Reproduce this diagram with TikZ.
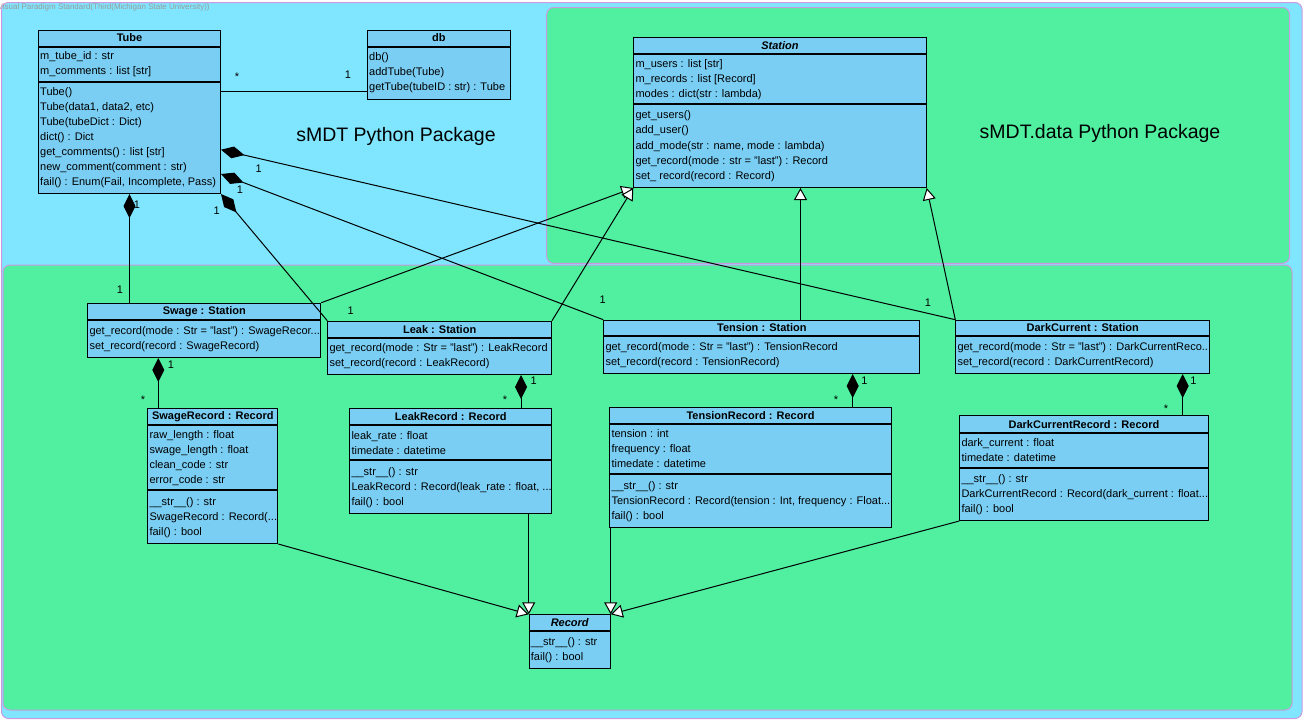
\documentclass[tikz,border=0pt]{standalone}
\usepackage{fontspec}
\setmainfont{Liberation Sans}
\usepackage{xcolor}
\usepackage{tikz}
\usetikzlibrary{calc,arrows.meta}
\definecolor{pkgblue}{HTML}{80E6FF}
\definecolor{pkggreen}{HTML}{50F0A0}
\definecolor{pkgedge}{HTML}{CC99E0}
\definecolor{clsfill}{HTML}{7ACEF4}
\definecolor{wmgray}{HTML}{9A9A9A}
\newcommand{\clsfont}{\fontsize{11}{15}\selectfont}
\tikzset{
  pkg/.style={draw=pkgedge, line width=1pt, rounded corners=7pt},
  pkgname/.style={font=\fontsize{19.5}{23}\selectfont, inner sep=0pt},
  clshead/.style={draw, fill=clsfill, line width=1pt, anchor=north west, minimum height=16pt, inner sep=0pt, font=\clsfont\bfseries},
  clspart/.style={draw, fill=clsfill, line width=1pt, anchor=north, inner sep=0pt},
  clstext/.style={anchor=west, align=left, inner xsep=2pt, inner ysep=0pt, font=\clsfont},
  assoc/.style={draw, line width=1pt},
  compo/.style={draw, line width=1pt, {Diamond[length=24pt,width=12pt]}-},
  gen/.style={draw, line width=1pt, -{Triangle[length=12pt,width=13pt,fill=white]}},
  mult/.style={anchor=base, inner sep=0pt, font=\clsfont},
}

\begin{document}
\begin{tikzpicture}[x=1pt,y=-1pt]
  \useasboundingbox (0,0) rectangle (1308,723);
  % packages
  \draw[pkg, fill=pkgblue] (1.5,2.5) rectangle (1302,718.5);
  \draw[pkg, fill=pkggreen] (546.7,7.5) rectangle (1289.5,263.3);
  \draw[pkg, fill=pkggreen] (3,265) rectangle (1292,710);
  \node[anchor=west, inner sep=0pt, text=wmgray, font=\fontsize{8}{9}\selectfont] (wm) at (-2.5,7) {Visual Paradigm Standard(Third(Michigan State University))};
  \node[pkgname] (pkgmain) at (396,136) {sMDT Python Package};
  \node[pkgname] (pkgdata) at (1100,133) {sMDT.data Python Package};

  % Tube
  \node[clshead, minimum width=182pt] (tube) at (38,29.5) {Tube};
  \node[clspart, minimum width=182pt, minimum height=34pt] (tube-a) at (tube.south) {};
  \node[clstext] (tube-at) at (tube-a.west) {m\_tube\_id : str\\m\_comments : list [str]};
  \node[clspart, minimum width=182pt, minimum height=111.5pt] (tube-o) at (tube-a.south) {};
  \node[clstext] (tube-ot) at (tube-o.west) {Tube()\\Tube(data1, data2, etc)\\Tube(tubeDict : Dict)\\dict() : Dict\\get\_comments() : list [str]\\new\_comment(comment : str)\\fail() : Enum(Fail, Incomplete, Pass)};

  % db
  \node[clshead, minimum width=142.5pt] (db) at (367,29.5) {db};
  \node[clspart, minimum width=142.5pt, minimum height=52pt] (db-o) at (db.south) {};
  \node[clstext] (db-ot) at (db-o.west) {db()\\addTube(Tube)\\getTube(tubeID : str) : Tube};

  % Station
  \node[clshead, minimum width=292.4pt, font=\clsfont\bfseries\itshape] (station) at (633.3,37.3) {Station};
  \node[clspart, minimum width=292.4pt, minimum height=49pt] (station-a) at (station.south) {};
  \node[clstext] (station-at) at (station-a.west) {m\_users : list [str]\\m\_records : list [Record]\\modes : dict(str : lambda)};
  \node[clspart, minimum width=292.4pt, minimum height=82.7pt] (station-o) at (station-a.south) {};
  \node[clstext] (station-ot) at (station-o.west) {get\_users()\\add\_user()\\add\_mode(str : name, mode : lambda)\\get\_record(mode : str = "last") : Record\\set\_ record(record : Record)};

  % stations
  \node[clshead, minimum width=233pt] (swage) at (87.3,302.7) {Swage : Station};
  \node[clspart, minimum width=233pt, minimum height=37.3pt] (swage-o) at (swage.south) {};
  \node[clstext] (swage-ot) at (swage-o.west) {get\_record(mode : Str = "last") : SwageRecor...\\set\_record(record : SwageRecord)};

  \node[clshead, minimum width=223.7pt] (leak) at (327.3,320.7) {Leak : Station};
  \node[clspart, minimum width=223.7pt, minimum height=36.3pt] (leak-o) at (leak.south) {};
  \node[clstext] (leak-ot) at (leak-o.west) {get\_record(mode : Str = "last") : LeakRecord\\set\_record(record : LeakRecord)};

  \node[clshead, minimum width=316pt, minimum height=15.6pt] (tension) at (603.3,319.7) {Tension : Station};
  \node[clspart, minimum width=316pt, minimum height=36.7pt] (tension-o) at (tension.south) {};
  \node[clstext] (tension-ot) at (tension-o.west) {get\_record(mode : Str = "last") : TensionRecord\\set\_record(record : TensionRecord)};

  \node[clshead, minimum width=254pt, minimum height=15.6pt] (dark) at (955.3,319.7) {DarkCurrent : Station};
  \node[clspart, minimum width=254pt, minimum height=36.7pt] (dark-o) at (dark.south) {};
  \node[clstext] (dark-ot) at (dark-o.west) {get\_record(mode : Str = "last") : DarkCurrentReco...\\set\_record(record : DarkCurrentRecord)};

  % records
  \node[clshead, minimum width=130pt] (srec) at (147.3,408.3) {SwageRecord : Record};
  \node[clspart, minimum width=130pt, minimum height=64pt] (srec-a) at (srec.south) {};
  \node[clstext] (srec-at) at (srec-a.west) {raw\_length : float\\swage\_length : float\\clean\_code : str\\error\_code : str};
  \node[clspart, minimum width=130pt, minimum height=52.7pt] (srec-o) at (srec-a.south) {};
  \node[clstext] (srec-ot) at (srec-o.west) {\_\_str\_\_() : str\\SwageRecord : Record(...\\fail() : bool};

  \node[clshead, minimum width=202pt] (lrec) at (349.3,408.3) {LeakRecord : Record};
  \node[clspart, minimum width=202pt, minimum height=34pt] (lrec-a) at (lrec.south) {};
  \node[clstext] (lrec-at) at (lrec-a.west) {leak\_rate : float\\timedate : datetime};
  \node[clspart, minimum width=202pt, minimum height=52.7pt] (lrec-o) at (lrec-a.south) {};
  \node[clstext] (lrec-ot) at (lrec-o.west) {\_\_str\_\_() : str\\LeakRecord : Record(leak\_rate : float, ...\\fail() : bool};

  \node[clshead, minimum width=281.4pt, minimum height=15.4pt] (trec) at (609.3,407.3) {TensionRecord : Record};
  \node[clspart, minimum width=281.4pt, minimum height=49.6pt] (trec-a) at (trec.south) {};
  \node[clstext] (trec-at) at (trec-a.west) {tension : int\\frequency : float\\timedate : datetime};
  \node[clspart, minimum width=281.4pt, minimum height=53pt] (trec-o) at (trec-a.south) {};
  \node[clstext] (trec-ot) at (trec-o.west) {\_\_str\_\_() : str\\TensionRecord : Record(tension : Int, frequency : Float...\\fail() : bool};

  \node[clshead, minimum width=248.4pt, minimum height=17pt] (drec) at (959.3,415.3) {DarkCurrentRecord : Record};
  \node[clspart, minimum width=248.4pt, minimum height=33.4pt] (drec-a) at (drec.south) {};
  \node[clstext] (drec-at) at (drec-a.west) {dark\_current : float\\timedate : datetime};
  \node[clspart, minimum width=248.4pt, minimum height=52.3pt] (drec-o) at (drec-a.south) {};
  \node[clstext] (drec-ot) at (drec-o.west) {\_\_str\_\_() : str\\DarkCurrentRecord : Record(dark\_current : float...\\fail() : bool};

  \node[clshead, minimum width=81pt, font=\clsfont\bfseries\itshape] (rec) at (528.7,614.3) {Record};
  \node[clspart, minimum width=81pt, minimum height=37pt] (rec-o) at (rec.south) {};
  \node[clstext] (rec-ot) at (rec-o.west) {\_\_str\_\_() : str\\fail() : bool};

  % Tube links
  \coordinate (dbend) at ($(db-o.south west)+(0,-8)$);
  \draw[assoc] (dbend -| tube-o.east) -- (dbend);
  \node[mult] (m-db1) at (237,80) {*};
  \node[mult] (m-db2) at (348,78) {1};

  \draw[compo] (tube-o.south) -- (tube-o.south |- swage.north);
  \node[mult] (m-sw1) at (137,208) {1};
  \node[mult] (m-sw2) at (120,293) {1};

  \draw[compo] (tube-o.south east) -- (leak.north west);
  \node[mult] (m-lk1) at (216.7,214) {1};
  \node[mult] (m-lk2) at (350.7,314) {1};

  \draw[compo] ($(tube-o.south east)+(0,-20)$) -- (tension.north west);
  \node[mult] (m-tn1) at (240,193.3) {1};
  \node[mult] (m-tn2) at (602.7,303.3) {1};

  \draw[compo] ($(tube-o.south east)+(0,-44.3)$) -- (dark.north west);
  \node[mult] (m-dk1) at (258.7,172.3) {1};
  \node[mult] (m-dk2) at (928,306) {1};

  % inheritance from Station
  \coordinate (stup) at ($(station-o.south)+(20.5,0)$);
  \draw[gen] (swage.north east) -- (station-o.south west);
  \draw[gen] (leak.north east) -- (station-o.south west);
  \draw[gen] (tension.north -| stup) -- (stup);
  \draw[gen] (dark.north west) -- (station-o.south east);

  % stations own their records
  \coordinate (swr) at ($(swage-o.south west)+(71,0)$);
  \coordinate (lkr) at ($(leak-o.south east)+(-31,0)$);
  \coordinate (tnr) at ($(tension-o.south east)+(-67.6,0)$);
  \coordinate (dkr) at ($(dark-o.south east)+(-27.6,0)$);
  \draw[compo] (swr) -- (swr |- srec.north);
  \draw[compo] (lkr) -- (lkr |- lrec.north);
  \draw[compo] (tnr) -- (tnr |- trec.north);
  \draw[compo] (dkr) -- (dkr |- drec.north);
  \node[mult] (m-sr1) at (171,368) {1};
  \node[mult] (m-sr2) at (143,403) {*};
  \node[mult] (m-lr1) at (533.7,384.7) {1};
  \node[mult] (m-lr2) at (505,403) {*};
  \node[mult] (m-tr1) at (864.3,384) {1};
  \node[mult] (m-tr2) at (836,403) {*};
  \node[mult] (m-dr1) at (1193.3,384) {1};
  \node[mult] (m-dr2) at (1166,412) {*};

  % inheritance from Record
  \draw[gen] (srec-o.south east) -- (rec.north west);
  \draw[gen] (rec.north west |- lrec-o.south) -- (rec.north west);
  \draw[gen] (rec.north east |- trec-o.south) -- (rec.north east);
  \draw[gen] (drec-o.south west) -- (rec.north east);
\end{tikzpicture}
\end{document}
